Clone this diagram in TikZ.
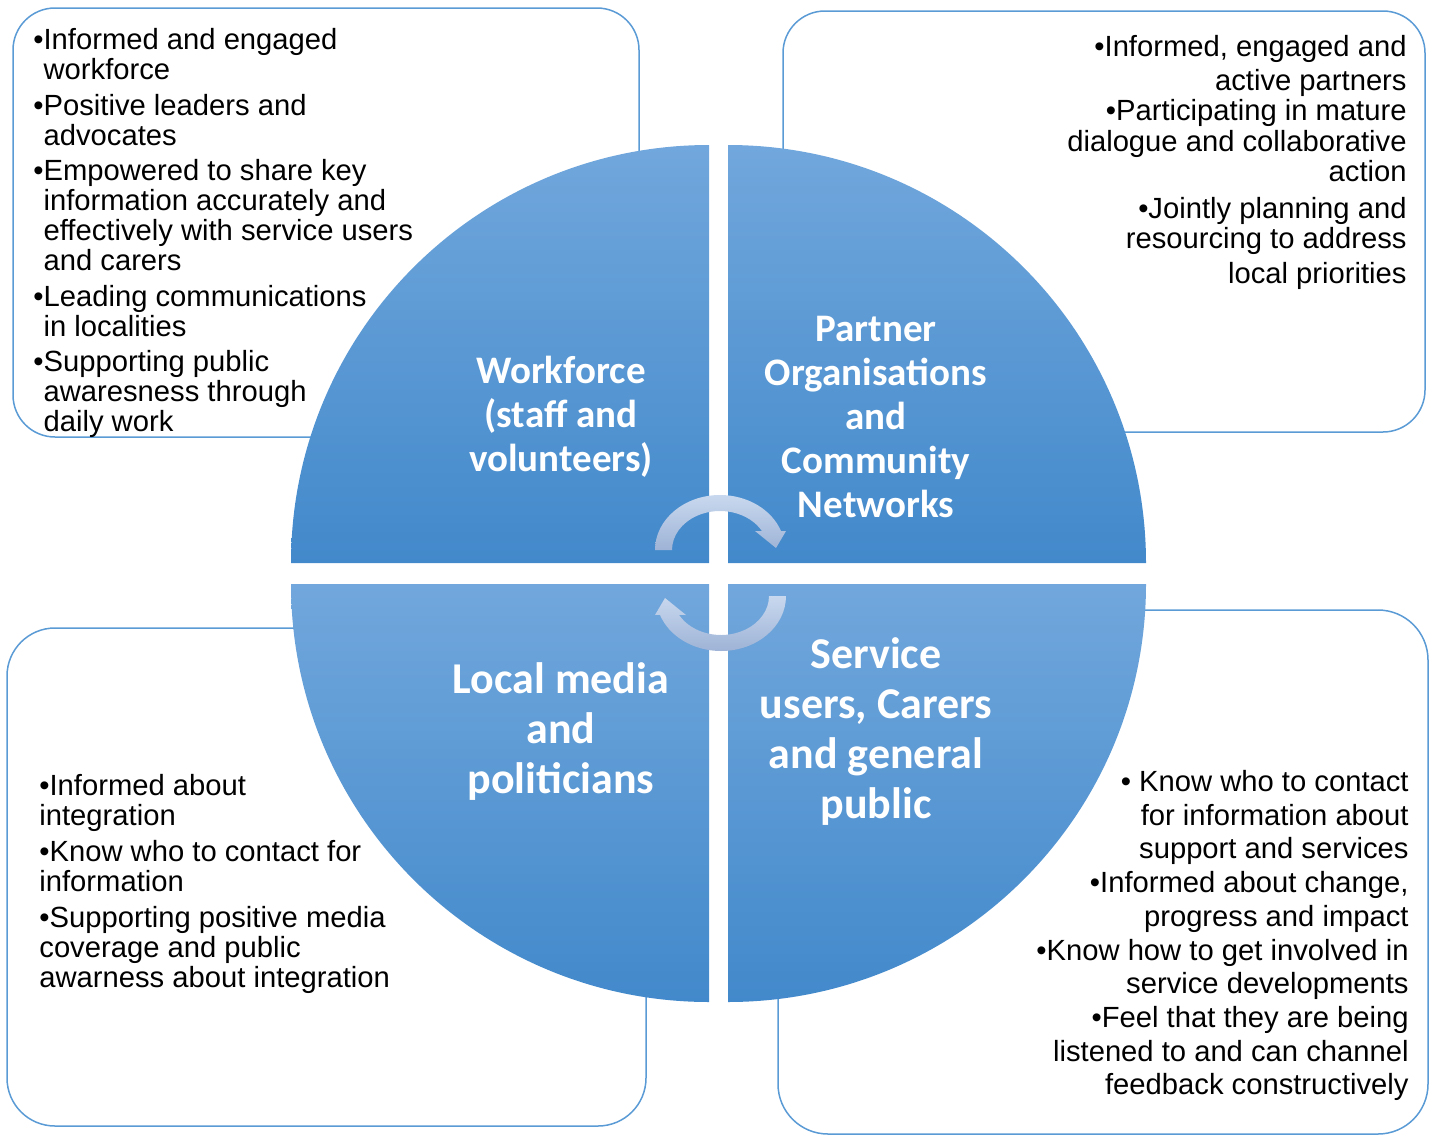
\documentclass[tikz,border=0pt]{standalone}
\usepackage{fontspec}
\setmainfont{Liberation Sans}
\newfontfamily\headfont{Carlito}
\usetikzlibrary{calc}
\definecolor{ringblue}{RGB}{91,155,213}
\definecolor{quadtop}{RGB}{113,167,220}
\definecolor{quadbot}{RGB}{66,137,203}
\definecolor{swirltop}{RGB}{200,216,238}
\definecolor{swirlbot}{RGB}{158,179,214}

\begin{document}
\begin{tikzpicture}[x=0.5pt, y=-0.5pt,
  notebox/.style={draw=ringblue, line width=0.75pt, fill=white},
  quadrant/.style={top color=quadtop, bottom color=quadbot},
  swirl/.style={top color=swirltop, bottom color=swirlbot},
  bullets/.style={inner sep=0pt, font=\fontsize{14.6pt}{15pt}\selectfont},
  qlabel/.style={text=white, align=center, inner sep=0pt}]
\useasboundingbox (0,0) rectangle (1429,1135);

\draw[notebox, rounded corners=21pt] (13,8) rectangle (639,437);
\draw[notebox, rounded corners=21pt] (783,11) rectangle (1425,432);
\draw[notebox, rounded corners=24pt] (7,628) rectangle (646,1126);
\draw[notebox, rounded corners=25pt] (778,610) rectangle (1428,1134);

\node[bullets, anchor=north west, align=left] (wfnotes) at (33,28) {%
\textbullet Informed and engaged\\
\hphantom{\textbullet}workforce\\[2.75pt]
\textbullet Positive leaders and\\
\hphantom{\textbullet}advocates\\[2.75pt]
\textbullet Empowered to share key\\
\hphantom{\textbullet}information accurately and\\
\hphantom{\textbullet}effectively with service users\\
\hphantom{\textbullet}and carers\\[2.75pt]
\textbullet Leading communications\\
\hphantom{\textbullet}in localities\\[2.75pt]
\textbullet Supporting public\\
\hphantom{\textbullet}awaresness through\\
\hphantom{\textbullet}daily work};

\node[bullets, anchor=north east, align=right] (ptnotes) at (1407,35) {%
\textbullet Informed, engaged and\\[2.15pt]
active partners\\
\textbullet Participating in mature\\[0.35pt]
dialogue and collaborative\\
action\\[3.35pt]
\textbullet Jointly planning and\\
resourcing to address\\[2.5pt]
local priorities};

\node[bullets, anchor=north west, align=left] (mdnotes) at (39,774) {%
\textbullet Informed about\\
integration\\[3pt]
\textbullet Know who to contact for\\
information\\[3pt]
\textbullet Supporting positive media\\
coverage and public\\
awarness about integration};

\node[bullets, anchor=north east, align=right,
  font=\fontsize{14.6pt}{16.85pt}\selectfont] (sunotes) at (1409,770) {%
\textbullet{} Know who to contact\\
for information about\\
support and services\\
\textbullet Informed about change,\\
progress and impact\\
\textbullet Know how to get involved in\\
service developments\\
\textbullet Feel that they are being\\
listened to and can channel\\
feedback constructively};

\coordinate (tl) at (709,563);
\coordinate (tr) at (728,563);
\coordinate (bl) at (709,584);
\coordinate (br) at (728,584);
\path[quadrant] (tl) -- ++(-418,0) arc[start angle=180, end angle=270, radius=418] -- cycle;
\path[quadrant] (tr) -- ++(0,-418) arc[start angle=270, end angle=360, radius=418] -- cycle;
\path[quadrant] (bl) -- ++(-418,0) arc[start angle=180, end angle=90, radius=418] -- cycle;
\path[quadrant] (br) -- ++(418,0) arc[start angle=0, end angle=90, radius=418] -- cycle;

\coordinate (swirlA) at (720,550);
\coordinate (swirlB) at (721,596);
\path[swirl] ($(swirlA)+(180:65 and 55)$)
  arc[start angle=180, end angle=340, x radius=65, y radius=55]
  -- (786,531) -- (776,548) -- (755,531)
  -- ($(swirlA)+(331:48 and 39)$)
  arc[start angle=331, end angle=180, x radius=48, y radius=39] -- cycle;
\path[swirl] ($(swirlB)+(0:65 and 55)$)
  arc[start angle=0, end angle=160, x radius=65, y radius=55]
  -- (655,615) -- (665,598) -- (686,615)
  -- ($(swirlB)+(151:48 and 39)$)
  arc[start angle=151, end angle=0, x radius=48, y radius=39] -- cycle;

\node[qlabel, font=\headfont\bfseries\fontsize{19.5pt}{22pt}\selectfont] (workforce) at (561,417)
  {Workforce\\(staff and\\volunteers)};
\node[qlabel, font=\headfont\bfseries\fontsize{19.5pt}{22pt}\selectfont] (partners) at (876,417)
  {Partner\\Organisations\\and\\Community\\Networks};
\node[qlabel, font=\headfont\bfseries\fontsize{22pt}{25pt}\selectfont] (media) at (561,732)
  {Local media\\and\\politicians};
\node[qlabel, font=\headfont\bfseries\fontsize{22pt}{25pt}\selectfont] (public) at (876,732)
  {Service\\users, Carers\\and general\\public};
\end{tikzpicture}
\end{document}
